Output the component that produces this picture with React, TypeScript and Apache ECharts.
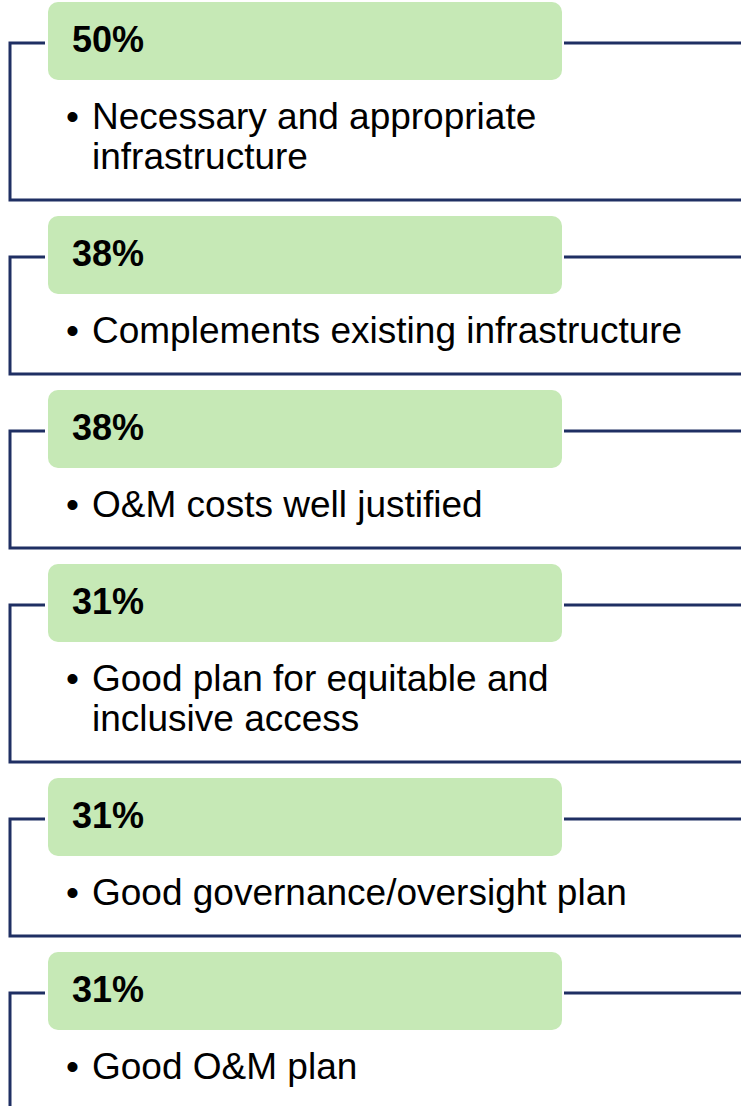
import React, { useEffect, useRef } from "react";
import * as echarts from "echarts";

// Share of reviewers citing each strength
const percentages: number[] = [50, 38, 38, 31, 31, 31];
// Strength descriptions, one entry per wrapped line
const criteriaLines: string[][] = [
  ["Necessary and appropriate", "infrastructure"],
  ["Complements existing infrastructure"],
  ["O&M costs well justified"],
  ["Good plan for equitable and", "inclusive access"],
  ["Good governance/oversight plan"],
  ["Good O&M plan"],
];

const W = 741;
const H = 1106;
const FONT = "Liberation Sans, Arial, Helvetica, sans-serif";
const NAVY = "#1f2f63";
const GREEN = "#c6e9b6";

export default function App() {
  const ref = useRef<HTMLDivElement>(null);
  useEffect(() => {
    if (!ref.current) return;
    const chart = echarts.init(ref.current, null, { renderer: "svg" });
    const elements: any[] = [];
    let top = 2;
    const lineH = 40;
    percentages.forEach((p, i) => {
      const lines = criteriaLines[i];
      const extra = lineH * (lines.length - 1);
      const panelH = 174 + extra;
      const lineY = top + 41;
      const isLast = i === percentages.length - 1;
      const bottom = isLast ? H + 40 : top + 158 + extra;
      // outline bracket
      elements.push({
        type: "rect",
        shape: { x: 10, y: lineY, width: W + 40, height: bottom - lineY },
        style: { fill: "none", stroke: NAVY, lineWidth: 3 },
        z: 1,
      });
      // white gap behind header box
      elements.push({
        type: "rect",
        shape: { x: 45, y: top - 2, width: 519, height: 82, r: 12 },
        style: { fill: "#ffffff" },
        z: 2,
      });
      // header box
      elements.push({
        type: "rect",
        shape: { x: 48, y: top, width: 514, height: 78, r: 10 },
        style: { fill: GREEN },
        z: 3,
      });
      elements.push({
        type: "text",
        x: 72,
        y: top + 37,
        style: {
          text: `${p}%`,
          fill: "#000000",
          fontFamily: FONT,
          fontSize: 36,
          fontWeight: "bold",
          verticalAlign: "middle",
          align: "left",
        },
        z: 4,
      });
      // bullet
      elements.push({
        type: "text",
        x: 66,
        y: top + 94,
        style: {
          text: "•",
          fill: "#000000",
          fontFamily: FONT,
          fontSize: 37,
          lineHeight: lineH,
          verticalAlign: "top",
          align: "left",
        },
        z: 4,
      });
      elements.push({
        type: "text",
        x: 92,
        y: top + 94,
        style: {
          text: lines.join("\n"),
          fill: "#000000",
          fontFamily: FONT,
          fontSize: 37,
          lineHeight: lineH,
          verticalAlign: "top",
          align: "left",
        },
        z: 4,
      });
      top += panelH;
    });
    chart.setOption({
      animation: false,
      backgroundColor: "#ffffff",
      graphic: { elements },
    });
    return () => chart.dispose();
  }, []);
  return (
    <div
      ref={ref}
      style={{ position: "absolute", left: 0, top: 0, width: W, height: H }}
    />
  );
}
